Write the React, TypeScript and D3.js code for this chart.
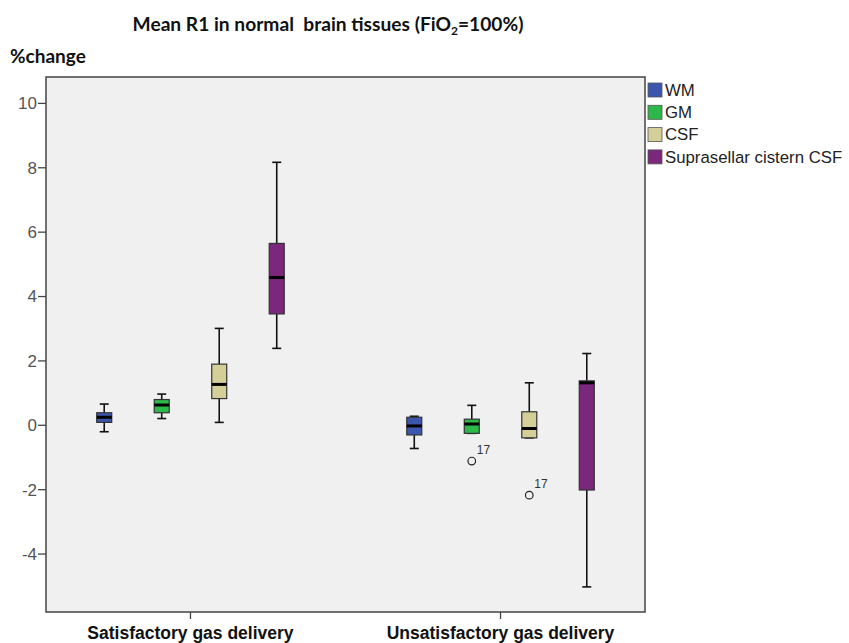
import React from "react";
import * as d3 from "d3";

// Groups on the x axis and tissue series inside each group
const groups = ["Satisfactory gas delivery", "Unsatisfactory gas delivery"];
const tissues = ["WM", "GM", "CSF", "Suprasellar cistern CSF"];
const tissueColors = ["#3d56ad", "#2db84a", "#d4cf98", "#7b277c"];

// Box-plot statistics (% change), one value per tissue, in tissue order
const satLow = [-0.2, 0.21, 0.09, 2.39];
const satQ1 = [0.09, 0.39, 0.83, 3.46];
const satMedian = [0.25, 0.63, 1.27, 4.59];
const satQ3 = [0.39, 0.8, 1.9, 5.65];
const satHigh = [0.66, 0.97, 3.01, 8.17];

const unsatLow = [-0.72, -0.25, -0.39, -5.02];
const unsatQ1 = [-0.3, -0.25, -0.39, -2.01];
const unsatMedian = [-0.02, 0.04, -0.1, 1.32];
const unsatQ3 = [0.25, 0.19, 0.42, 1.38];
const unsatHigh = [0.28, 0.62, 1.32, 2.23];

// Outlying cases: group index, tissue index, value, case label
const outlierGroup = [1, 1];
const outlierTissue = [1, 2];
const outlierValue = [-1.11, -2.17];
const outlierLabel = ["17", "17"];

const yTicks = [-4, -2, 0, 2, 4, 6, 8, 10];

const W = 849;
const H = 643;
const plot = { left: 46, right: 645, top: 77, bottom: 612 };

export default function App() {
  const y = d3.scaleLinear().domain([-5.8, 10.82]).range([plot.bottom, plot.top]);
  const xGroup = d3
    .scalePoint<string>()
    .domain(groups)
    .range([plot.left, plot.right])
    .padding(0.466);
  const xInner = d3.scaleBand<string>().domain(tissues).range([-115, 115]);

  const stats = [
    { low: satLow, q1: satQ1, med: satMedian, q3: satQ3, high: satHigh },
    { low: unsatLow, q1: unsatQ1, med: unsatMedian, q3: unsatQ3, high: unsatHigh },
  ];

  const boxW = 15;
  const capW = 9;
  const font = "'Liberation Sans', Arial, sans-serif";
  const titleFont = "Lato, 'Open Sans', sans-serif";

  const boxes: React.ReactNode[] = [];
  groups.forEach((g, gi) => {
    const s = stats[gi];
    tissues.forEach((t, ti) => {
      const cx = (xGroup(g) as number) + (xInner(t) as number) + xInner.bandwidth() / 2;
      const yq1 = y(s.q1[ti]);
      const yq3 = y(s.q3[ti]);
      boxes.push(
        <g key={`${gi}-${ti}`}>
          <line x1={cx} x2={cx} y1={y(s.high[ti])} y2={yq3} stroke="#111" strokeWidth={1.6} />
          <line x1={cx} x2={cx} y1={yq1} y2={y(s.low[ti])} stroke="#111" strokeWidth={1.6} />
          <line x1={cx - capW / 2} x2={cx + capW / 2} y1={y(s.high[ti])} y2={y(s.high[ti])} stroke="#111" strokeWidth={1.6} />
          <line x1={cx - capW / 2} x2={cx + capW / 2} y1={y(s.low[ti])} y2={y(s.low[ti])} stroke="#111" strokeWidth={1.6} />
          <rect
            x={cx - boxW / 2}
            y={yq3}
            width={boxW}
            height={Math.max(yq1 - yq3, 0.5)}
            fill={tissueColors[ti]}
            stroke="#333"
            strokeWidth={1.2}
          />
          <line x1={cx - boxW / 2} x2={cx + boxW / 2} y1={y(s.med[ti])} y2={y(s.med[ti])} stroke="#000" strokeWidth={3} />
        </g>
      );
    });
  });

  const outliers = outlierValue.map((v, i) => {
    const g = groups[outlierGroup[i]];
    const t = tissues[outlierTissue[i]];
    const cx = (xGroup(g) as number) + (xInner(t) as number) + xInner.bandwidth() / 2;
    const cy = y(v);
    return (
      <g key={`o${i}`}>
        <circle cx={cx} cy={cy} r={3.8} fill="none" stroke="#222" strokeWidth={1.2} />
        <text x={cx + 5} y={cy - 7} fontSize={12} fontFamily={font} fill="#333">
          {outlierLabel[i]}
        </text>
      </g>
    );
  });

  return (
    <svg width={W} height={H} style={{ position: "absolute", left: 0, top: 0 }}>
      <rect x={0} y={0} width={W} height={H} fill="#fff" />
      <text
        x={328}
        y={31}
        textAnchor="middle"
        fontSize={19.2}
        fontWeight="bold"
        fontFamily={titleFont}
        fill="#111"
        style={{ whiteSpace: "pre" }}
      >
        {"Mean R1 in normal  brain tissues (FiO"}
        <tspan fontSize={12} dy={4}>2</tspan>
        <tspan dy={-4}>=100%)</tspan>
      </text>
      <text x={10} y={63} fontSize={19} fontWeight="bold" fontFamily={titleFont} fill="#111">
        %change
      </text>

      <rect
        x={plot.left}
        y={plot.top}
        width={plot.right - plot.left}
        height={plot.bottom - plot.top}
        fill="#f0f0f0"
        stroke="#444"
        strokeWidth={1.5}
      />

      {yTicks.map((v) => (
        <g key={v}>
          <line x1={plot.left - 8} x2={plot.left} y1={y(v)} y2={y(v)} stroke="#444" strokeWidth={1.3} />
          <text
            x={plot.left - 9}
            y={y(v)}
            dy="0.35em"
            textAnchor="end"
            fontSize={17}
            fontFamily={font}
            fill="#555"
          >
            {v}
          </text>
        </g>
      ))}

      {groups.map((g) => (
        <g key={g}>
          <line x1={xGroup(g)} x2={xGroup(g)} y1={plot.bottom} y2={plot.bottom + 7} stroke="#444" strokeWidth={1.3} />
          <text
            x={xGroup(g)}
            y={plot.bottom + 27}
            textAnchor="middle"
            fontSize={17.5}
            fontWeight="bold"
            fontFamily={font}
            fill="#111"
          >
            {g}
          </text>
        </g>
      ))}

      {boxes}
      {outliers}

      {tissues.map((t, i) => (
        <g key={t}>
          <rect x={648} y={83 + i * 22.3} width={14} height={14} fill={tissueColors[i]} stroke="#555" strokeWidth={0.8} />
          <text x={665} y={90 + i * 22.3} dy="0.35em" fontSize={16.8} fontFamily={font} fill="#222">
            {t}
          </text>
        </g>
      ))}
    </svg>
  );
}
